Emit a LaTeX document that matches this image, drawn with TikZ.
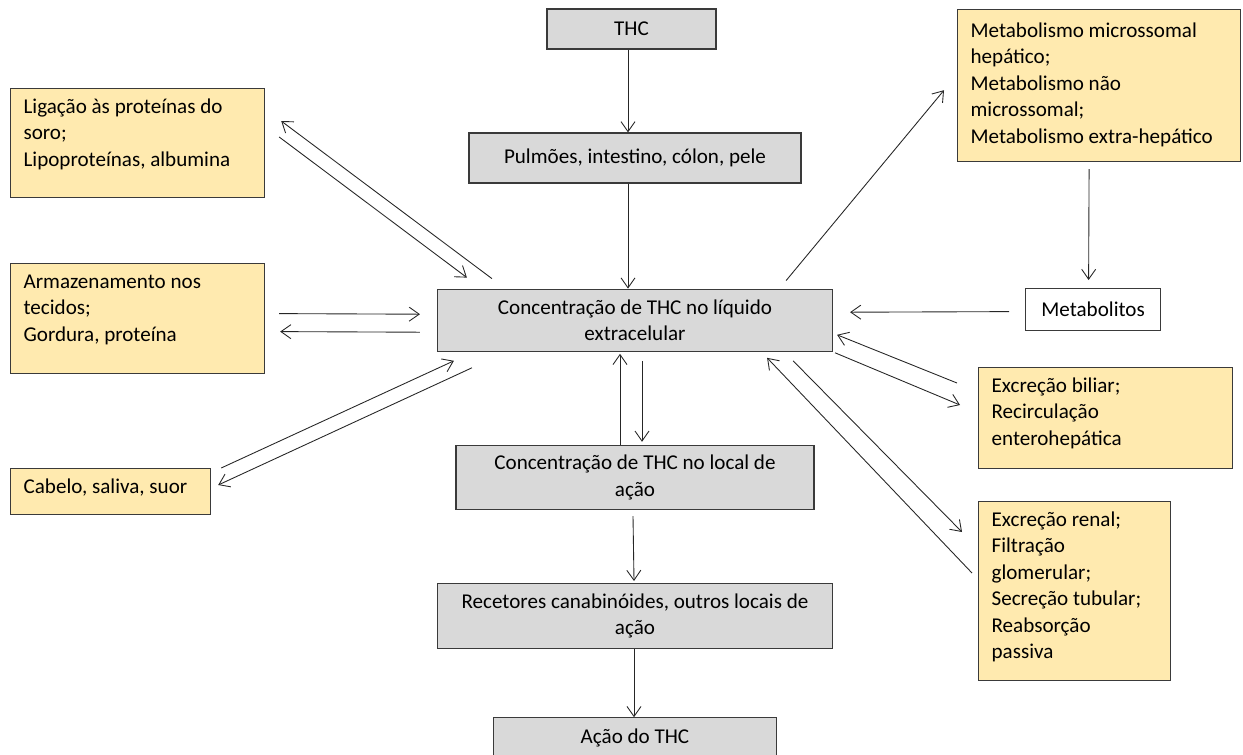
\documentclass[tikz,border=0pt]{standalone}
\usepackage{fontspec}
\setmainfont{Carlito}
\usepackage{tikz}
\usetikzlibrary{arrows.meta, positioning}
\definecolor{stepgray}{HTML}{D9D9D9}
\definecolor{sideyellow}{HTML}{FFEAAF}
\definecolor{edgegray}{HTML}{3A3A3A}

\begin{document}
\begin{tikzpicture}[x=0.02cm, y=-0.02cm,
  every node/.style={font=\fontsize{12}{15}\selectfont},
  gbox/.style={rectangle, draw=edgegray, line width=0.7pt, fill=stepgray, align=center, inner sep=2pt},
  ybox/.style={rectangle, draw=edgegray, line width=0.7pt, fill=sideyellow, align=flush left, inner xsep=0.26cm, inner ysep=0.1cm, text height=0.4cm, anchor=north west},
  wbox/.style={rectangle, draw=edgegray, line width=0.7pt, fill=white, align=center, anchor=north west},
  arr/.style={draw=black!85, line width=0.5pt, -{Straight Barb[length=2mm, width=2.8mm]}}]

  \useasboundingbox (0,0) rectangle (1243,754);

  % central chain
  \node[gbox, minimum width=3.38cm, minimum height=0.8cm] (thc) at (631.5,29) {THC};
  \node[gbox, minimum width=6.64cm, minimum height=1cm] (pulm) at (635,158) {Pulmões, intestino, cólon, pele};
  \node[gbox, minimum width=7.9cm, minimum height=1.24cm, below=2.1cm of pulm] (conc) {Concentração de THC no líquido\\extracelular};
  \node[gbox, minimum width=7.16cm, minimum height=1.28cm, below=1.86cm of conc] (local) {Concentração de THC no local de\\ação};
  \node[gbox, minimum width=7.9cm, minimum height=1.3cm, below=1.46cm of local] (rec) {Recetores canabinóides, outros locais de\\ação};
  \node[gbox, minimum width=5.66cm, minimum height=0.8cm, below=1.36cm of rec] (acao) {Ação do THC};

  % left side
  \node[ybox, text width=4.56cm, text depth=1.58cm] (lig) at (10,88) {Ligação às proteínas do\\soro;\\Lipoproteínas, albumina};
  \node[ybox, text width=4.56cm, text depth=1.6cm] (arm) at (10,263) {Armazenamento nos\\tecidos;\\Gordura, proteína};
  \node[ybox, text width=3.48cm, text depth=0.32cm] (cab) at (10,468) {Cabelo, saliva, suor};

  % right side
  \node[ybox, text width=5.14cm, text height=0.46cm, text depth=2.38cm] (metab) at (957,9) {Metabolismo microssomal\\hepático;\\Metabolismo não\\microssomal;\\Metabolismo extra-hepático};
  \node[wbox, minimum width=2.7cm, minimum height=0.84cm] (metlt) at (1025,288) {Metabolitos};
  \node[ybox, text width=4.56cm, text depth=1.42cm] (bil) at (978,367) {Excreção biliar;\\Recirculação\\enterohepática};
  \node[ybox, text width=3.32cm, text depth=2.98cm] (ren) at (978,501) {Excreção renal;\\Filtração\\glomerular;\\Secreção tubular;\\Reabsorção\\passiva};

  % vertical arrows
  \draw[arr] ([shift={(-3.5,0)}]thc.south) -- ([shift={(-7,0)}]pulm.north);
  \draw[arr] ([shift={(-7,0)}]pulm.south) -- ([shift={(-7,0)}]conc.north);
  \draw[arr] ([shift={(-15,0)}]local.north) -- ([shift={(-15,2)}]conc.south);
  \draw[arr] ([shift={(7,9)}]conc.south) -- ([shift={(7,-3)}]local.north);
  \draw[arr] ([shift={(-2,6)}]local.south) -- ([shift={(-1,-2)}]rec.north);
  \draw[arr] ([shift={(-1,0)}]rec.south) -- ([shift={(-1,0)}]acao.north);

  % exchanges on the left
  \draw[arr] ([shift={(14,49)}]lig.north east) -- ([shift={(30,-11)}]conc.north west);
  \draw[arr] ([shift={(55,-10)}]conc.north west) -- ([shift={(16,33)}]lig.north east);
  \draw[arr] ([shift={(14,-5)}]arm.east) -- ([shift={(-17,-6)}]conc.west);
  \draw[arr] ([shift={(-17,12)}]conc.west) -- ([shift={(15,13)}]arm.east);
  \draw[arr] ([shift={(10,0)}]cab.north east) -- ([shift={(17,9)}]conc.south west);
  \draw[arr] ([shift={(35,16)}]conc.south west) -- ([shift={(7,17)}]cab.north east);

  % elimination on the right
  \draw[arr] ([shift={(-47,-8)}]conc.north east) -- ([shift={(-13,-72)}]metab.south west);
  \draw[arr] ([shift={(-10,7)}]metab.south) -- ([shift={(-4.5,-8)}]metlt.north);
  \draw[arr] ([shift={(-16,2)}]metlt.west) -- ([shift={(17,-8)}]conc.east);
  \draw[arr] ([shift={(-21,16)}]bil.north west) -- ([shift={(4,-17)}]conc.south east);
  \draw[arr] ([shift={(2,1)}]conc.south east) -- ([shift={(-18,38)}]bil.north west);
  \draw[arr] ([shift={(-6,72)}]ren.north west) -- ([shift={(-66,6)}]conc.south east);
  \draw[arr] ([shift={(-40,9)}]conc.south east) -- ([shift={(-16,31)}]ren.north west);

\end{tikzpicture}
\end{document}
